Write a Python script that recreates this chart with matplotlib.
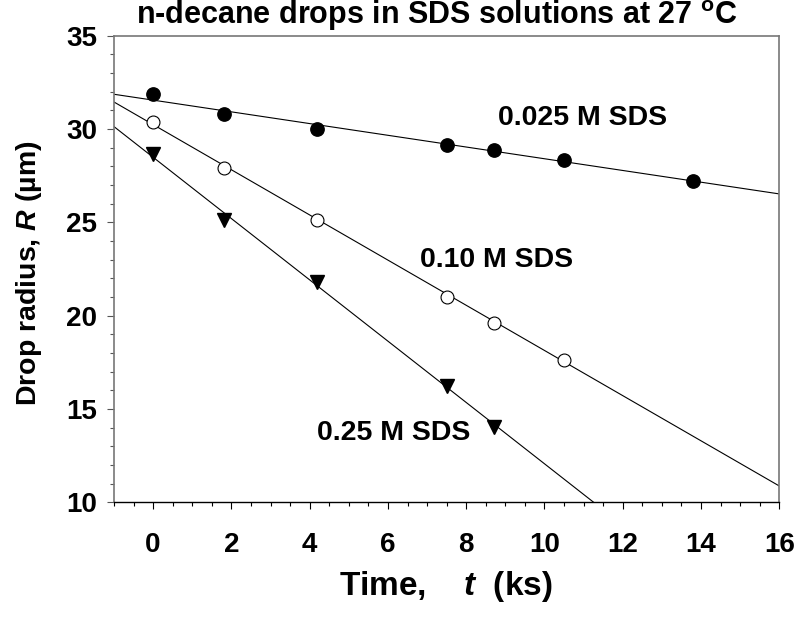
import matplotlib
matplotlib.use("Agg")
import matplotlib.pyplot as plt
import numpy as np

plt.rcParams['font.family'] = ['Liberation Sans', 'DejaVu Sans']
plt.rcParams['font.weight'] = 'bold'
plt.rcParams['mathtext.fontset'] = 'custom'
plt.rcParams['mathtext.rm'] = 'Liberation Sans:bold'
plt.rcParams['mathtext.it'] = 'Liberation Sans:italic:bold'
plt.rcParams['mathtext.bf'] = 'Liberation Sans:bold'

# data: time (ks), drop radius (um)
t_025 = [0.0, 1.8, 4.2, 7.5, 8.7, 10.5, 13.8]
r_025 = [31.9, 30.8, 30.0, 29.15, 28.88, 28.34, 27.22]

t_010 = [0.0, 1.8, 4.2, 7.5, 8.7, 10.5]
r_010 = [30.38, 27.93, 25.13, 21.02, 19.63, 17.65]

t_25 = [0.0, 1.8, 4.2, 7.5, 8.7]
r_25 = [28.66, 25.13, 21.79, 16.24, 14.06]

# straight-line fits drawn in the figure (intercept at t=0, slope)
fit_b = [31.55, 30.24, 28.49]
fit_m = [-0.314, -1.21, -1.642]

labels = ["0.025 M SDS", "0.10 M SDS", "0.25 M SDS"]
label_xy = [(8.82, 30.6), (6.83, 23.0), (4.18, 13.7)]

fig = plt.figure(figsize=(7.97, 6.17), dpi=100)
ax = fig.add_axes([0.143, 0.1857, 0.8348, 0.7564])

tt = np.linspace(-1, 16, 200)
for b, m in zip(fit_b, fit_m):
    ax.plot(tt, b + m * tt, color='black', lw=0.8, zorder=2)

ax.plot(t_025, r_025, 'o', color='black', ms=9.6, zorder=3)
ax.plot(t_010, r_010, 'o', mfc='white', mec='black', mew=0.8, ms=9.3, zorder=3)
ax.plot(t_25, r_25, 'v', color='black', ms=9.5, zorder=3)

for s, (x, y) in zip(labels, label_xy):
    ax.text(x, y, s, fontsize=20.5, fontweight='bold', ha='left', va='center')

ax.set_xlim(-1, 16)
ax.set_ylim(10, 35)
ax.set_xticks(np.arange(0, 17, 2))
ax.set_xticks(np.arange(-1, 16.01, 0.5), minor=True)
ax.set_yticks(np.arange(10, 36, 5))
ax.set_yticks(np.arange(10, 36, 1), minor=True)
ax.tick_params(which='major', direction='out', length=5, width=0.8, labelsize=20)
ax.tick_params(which='minor', direction='out', length=3, width=0.8)
ax.tick_params(axis='x', which='major', pad=16)
ax.tick_params(axis='y', which='major', pad=7)
ax.tick_params(axis='y', which='both', color='#555555')
for lab in ax.get_xticklabels() + ax.get_yticklabels():
    lab.set_fontweight('bold')

for side in ['left', 'right', 'top']:
    ax.spines[side].set_color('#777777')
    ax.spines[side].set_linewidth(1.2)
ax.spines['bottom'].set_color('black')
ax.spines['bottom'].set_linewidth(1.0)

fig.text(446 / 797, 1 - 587 / 617, "Time,    $t$  (ks)", fontsize=24,
         ha='center', va='center')
fig.text(29 / 797, 1 - 273 / 617, "Drop radius, $R$ (\u00b5m)", fontsize=20.5,
         ha='center', va='center', rotation=90)
fig.text(437 / 797, 1 - 16 / 617, "n-decane drops in SDS solutions at 27 $^{\\mathrm{o}}$C",
         fontsize=22, ha='center', va='center')

fig.savefig("out.png", dpi=100)
